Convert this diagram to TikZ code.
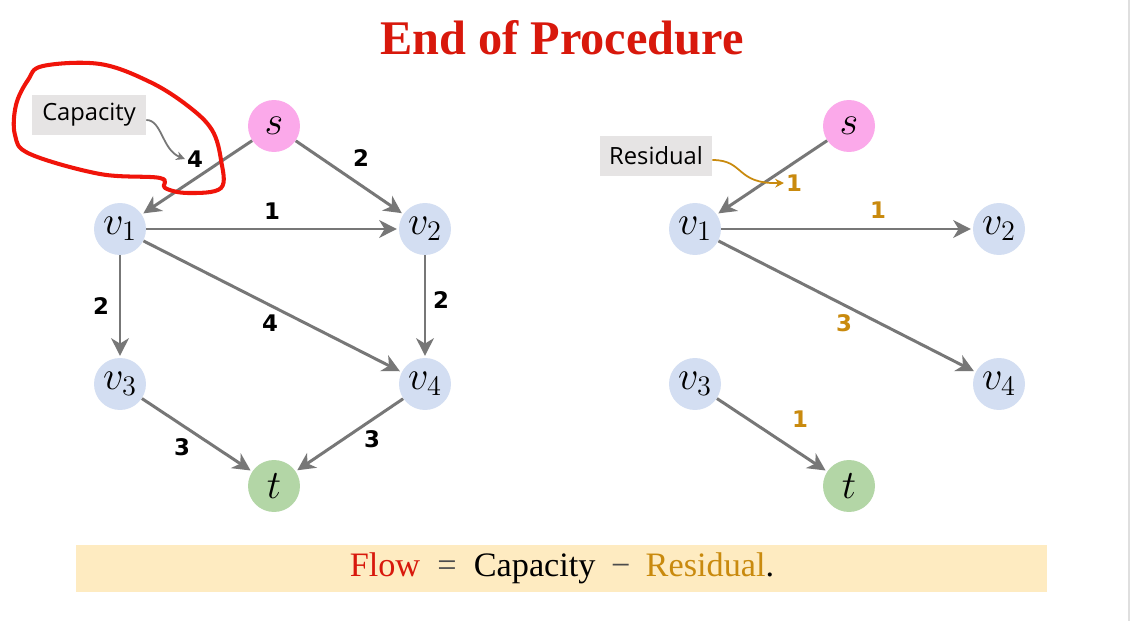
\RequirePackage{fix-cm}
\documentclass[tikz,border=0pt]{standalone}
\usepackage{fontspec}
\newfontfamily\labfont{DejaVu Sans}
\newfontfamily\boxfont{Open Sans}
\newfontfamily\serfont{Liberation Serif}
\usetikzlibrary{arrows.meta}
\definecolor{edgegray}{HTML}{777777}
\definecolor{spink}{HTML}{FBA9EA}
\definecolor{vblue}{HTML}{D3DEF2}
\definecolor{tgreen}{HTML}{B3D6A6}
\definecolor{resorange}{HTML}{C98A0E}
\definecolor{titlered}{HTML}{D8180C}
\definecolor{boxgray}{HTML}{E6E4E4}
\definecolor{bandyellow}{HTML}{FEEBC1}
\definecolor{loopred}{HTML}{F0140A}
\tikzset{
  vert/.style={circle, minimum size=1.04cm, inner sep=0pt, font=\fontsize{23}{25}\selectfont},
  sv/.style={vert, fill=spink},
  vv/.style={vert, fill=vblue},
  tv/.style={vert, fill=tgreen},
  edge/.style={draw=edgegray, line width=1.7pt, -{Stealth[length=10pt, width=10pt, inset=3pt]}, shorten >=1pt},
  lab/.style={font=\labfont\bfseries\fontsize{13}{15}\selectfont, inner sep=1pt},
  rlab/.style={lab, text=resorange},
  tag/.style={fill=boxgray, font=\boxfont\fontsize{13.5}{15}\selectfont, inner sep=0pt, minimum height=0.8cm},
}
\begin{document}
\begin{tikzpicture}[x=0.02cm, y=-0.02cm]
\useasboundingbox (0,0) rectangle (1130,621);
\fill[white] (0,0) rectangle (1130,621);
\draw[gray!25, line width=0.6pt] (1129,0) -- (1129,621);

% title
\node[text=titlered, font=\serfont\bfseries\fontsize{27.5}{30}\selectfont] (title) at (562,38) {End of Procedure};

% left graph
\node[sv] (s) at (274,126) {$s$};
\node[vv] (v1) at (120,229) {$v_1$};
\node[vv] (v2) at (425,229) {$v_2$};
\node[vv] (v3) at (120,384) {$v_3$};
\node[vv] (v4) at (425,384) {$v_4$};
\node[tv] (t) at (274,486) {$t$};

\draw[edge] (s) -- (v1);
\draw[edge] (s) -- (v2);
\draw[edge] (v1) -- (v2);
\draw[edge] (v1) -- (v3);
\draw[edge] (v1) -- (v4);
\draw[edge] (v2) -- (v4);
\draw[edge] (v3) -- (t);
\draw[edge] (v4) -- (t);

\node[lab] (l1) at (195,159) {4};
\node[lab] (l2) at (361,158) {2};
\node[lab] (l3) at (272,211) {1};
\node[lab] (l4) at (101,306) {2};
\node[lab] (l5) at (270,323) {4};
\node[lab] (l6) at (441,300) {2};
\node[lab] (l7) at (182,447) {3};
\node[lab] (l8) at (372,439) {3};

\node[tag, minimum width=2.28cm] (cap) at (89,115) {Capacity};
\draw[edgegray, line width=1pt, -{Stealth[length=5pt, width=5pt]}] (cap.east) ++(0,5) coordinate (capa) (capa) .. controls (162,120) and (162,150) .. (l1.west);

% right graph
\node[sv] (rs) at (849,126) {$s$};
\node[vv] (rv1) at (695,229) {$v_1$};
\node[vv] (rv2) at (999,229) {$v_2$};
\node[vv] (rv3) at (695,384) {$v_3$};
\node[vv] (rv4) at (999,384) {$v_4$};
\node[tv] (rt) at (849,486) {$t$};

\draw[edge] (rs) -- (rv1);
\draw[edge] (rv1) -- (rv2);
\draw[edge] (rv1) -- (rv4);
\draw[edge] (rv3) -- (rt);

\node[rlab] (r1) at (794,183) {1};
\node[rlab] (r2) at (878,210) {1};
\node[rlab] (r3) at (844,323) {3};
\node[rlab] (r4) at (800,419) {1};

\node[tag, minimum width=2.24cm] (res) at (656,156) {Residual};
\draw[resorange, line width=1pt, -{Stealth[length=5pt, width=5pt]}] (res.east) ++(0,4) coordinate (resa) (resa) .. controls (745,160) and (735,184) .. (r1.west);

% bottom band
\fill[bandyellow] (76,545) rectangle (1047,592);
\node[font=\serfont\fontsize{19.5}{21}\selectfont] (formula) at (562,568)
  {\textcolor{titlered}{Flow}\hspace{0.5em}\textcolor{black!70}{=}\hspace{0.5em}Capacity\hspace{0.45em}\textcolor{black!70}{\char"2212}\hspace{0.45em}\textcolor{resorange}{Residual}.};

% red hand-drawn loop
\draw[loopred, line width=2.3pt, line join=round] plot[smooth cycle, tension=0.6] coordinates {
  (43,66) (100,64) (150,82) (188,106) (212,130) (221,160) (221,188) (188,193) (165,188) (160,178) (100,174) (30,154) (15,135) (16,105) (28,80)};
\end{tikzpicture}
\end{document}
